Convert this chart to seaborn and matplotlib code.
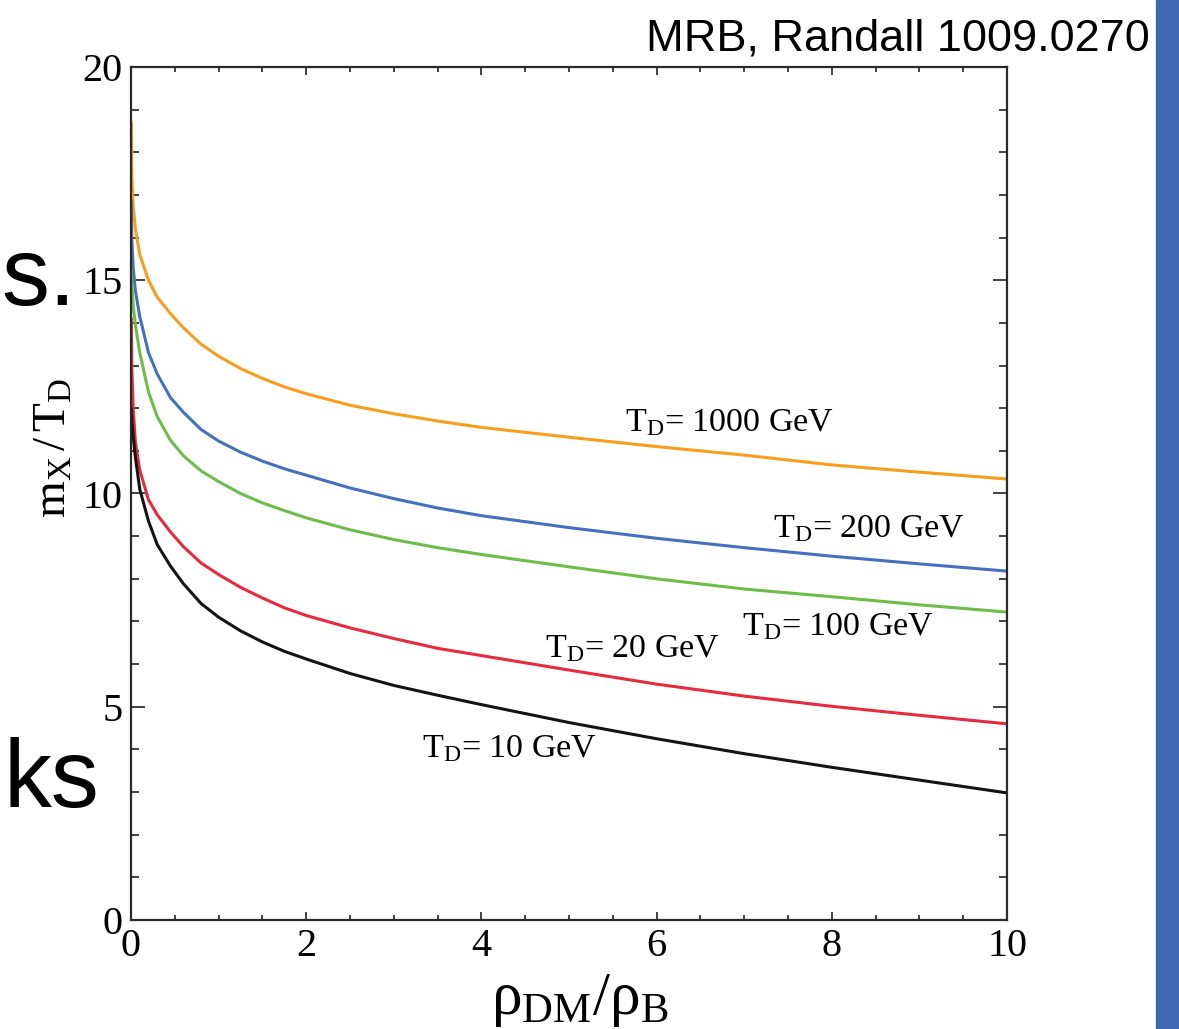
import numpy as np
import pandas as pd
import matplotlib
matplotlib.use("Agg")
import matplotlib.pyplot as plt
from matplotlib.ticker import MultipleLocator
import seaborn as sns

# m_X / T_D versus rho_DM / rho_B for several decoupling temperatures
ratio = [0.003, 0.01, 0.025, 0.05, 0.1, 0.2, 0.3, 0.45, 0.6, 0.8, 1.0, 1.25,
         1.5, 1.75, 2.0, 2.5, 3.0, 3.5, 4.0, 5.0, 6.0, 7.0, 8.0, 9.0, 10.0]

y_1000 = [18.7, 17.45, 16.75, 16.2, 15.6, 15.0, 14.6, 14.22, 13.88, 13.5, 13.22, 12.93,
          12.7, 12.5, 12.34, 12.07, 11.87, 11.7, 11.55, 11.32, 11.1, 10.9, 10.67, 10.5, 10.34]
y_200 = [16.85, 15.9, 15.3, 14.75, 14.15, 13.3, 12.8, 12.25, 11.9, 11.5, 11.23, 10.97,
         10.76, 10.58, 10.43, 10.13, 9.88, 9.66, 9.48, 9.2, 8.95, 8.73, 8.53, 8.35, 8.18]
y_100 = [15.25, 14.85, 14.4, 13.95, 13.3, 12.38, 11.8, 11.25, 10.88, 10.53, 10.28, 10.0,
         9.78, 9.6, 9.43, 9.15, 8.92, 8.73, 8.57, 8.28, 8.0, 7.76, 7.58, 7.39, 7.22]
y_20 = [14.1, 12.9, 12.0, 11.2, 10.55, 9.85, 9.5, 9.1, 8.75, 8.37, 8.1, 7.8,
        7.55, 7.32, 7.14, 6.85, 6.6, 6.37, 6.2, 5.86, 5.53, 5.25, 5.01, 4.8, 4.6]
y_10 = [12.0, 11.7, 11.35, 10.85, 10.1, 9.35, 8.8, 8.3, 7.88, 7.42, 7.1, 6.78,
        6.52, 6.3, 6.12, 5.78, 5.5, 5.27, 5.05, 4.63, 4.25, 3.9, 3.58, 3.28, 2.98]

temps = ["1000", "200", "100", "20", "10"]
colors = ["#F89D1E", "#4470BE", "#6CBD4A", "#E82A3F", "#141414"]

frames = []
for t, ys in zip(temps, [y_1000, y_200, y_100, y_20, y_10]):
    frames.append(pd.DataFrame({"ratio": ratio, "mass": ys, "T": t}))
df = pd.concat(frames, ignore_index=True)

sns.set_theme(style="ticks")
plt.rcParams["font.family"] = ["Liberation Serif", "DejaVu Serif"]
plt.rcParams["mathtext.fontset"] = "custom"
plt.rcParams["mathtext.rm"] = "Liberation Serif"
plt.rcParams["mathtext.it"] = "Liberation Serif:italic"
plt.rcParams["text.color"] = "black"
plt.rcParams["axes.labelcolor"] = "black"

fig = plt.figure(figsize=(11.79, 10.29), dpi=100)
ax = fig.add_axes([131 / 1179, 109 / 1029, 876 / 1179, 853 / 1029])

sns.lineplot(data=df, x="ratio", y="mass", hue="T", hue_order=temps,
             palette=colors, estimator=None, sort=False, linewidth=2.2,
             legend=False, ax=ax)

ax.set_xlim(0, 10)
ax.set_ylim(0, 20)
ax.xaxis.set_major_locator(MultipleLocator(2))
ax.xaxis.set_minor_locator(MultipleLocator(0.5))
ax.yaxis.set_major_locator(MultipleLocator(5))
ax.yaxis.set_minor_locator(MultipleLocator(1))
ax.tick_params(axis="both", which="both", direction="in", top=True, right=True,
               color="#333333", width=1.3, labelsize=29, labelcolor="black")
ax.tick_params(axis="x", which="major", length=6, pad=6)
ax.tick_params(axis="x", which="minor", length=3.5)
ax.tick_params(axis="y", which="major", length=10, pad=6)
ax.tick_params(axis="y", which="minor", length=6)
for s in ax.spines.values():
    s.set_linewidth(1.6)
    s.set_color("#2a2a2a")

ax.set_xlabel(r"$\mathrm{ρ_{DM}/ρ_B}$", fontsize=44)
ax.xaxis.set_label_coords(0.5126, -0.061)
ax.set_ylabel(r"$\mathrm{m_X\,/\,T_D}$", fontsize=34)
ax.yaxis.set_label_coords(-0.063, 0.553)

labels = [("1000", 5.64, 11.45), ("200", 7.33, 8.98), ("100", 6.97, 6.68),
          ("20", 4.73, 6.17), ("10", 3.32, 3.82)]
for t, lx, ly in labels:
    ax.text(lx, ly, r"T$_\mathrm{D}$= " + t + " GeV", fontsize=24.5,
            ha="left", va="baseline")

# slide surroundings
fig.text(1150 / 1179, 1 - 50 / 1029, "MRB, Randall 1009.0270",
         family="Liberation Sans", fontsize=32.5, ha="right", va="baseline")
fig.text(1 / 1179, 1 - 305 / 1029, "s.", family="Liberation Sans",
         fontsize=69, ha="left", va="baseline")
fig.text(3 / 1179, 1 - 807 / 1029, "ks", family="Liberation Sans",
         fontsize=69, ha="left", va="baseline")
fig.patches.append(plt.Rectangle((1156 / 1179, 0), 23 / 1179, 1,
                                 transform=fig.transFigure,
                                 color="#4166B0", zorder=5))

fig.savefig("out.png", dpi=100)
